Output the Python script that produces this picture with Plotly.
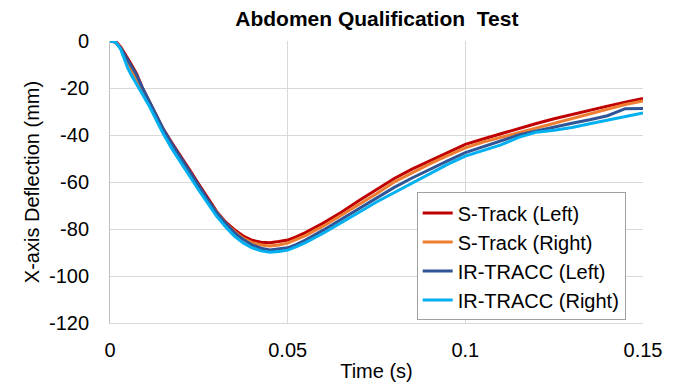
import plotly.graph_objects as go

# ---- data ----
time_s = [0, 0.0015, 0.003, 0.004, 0.005, 0.006, 0.0075, 0.009, 0.011, 0.013, 0.015,
          0.0175, 0.02, 0.0225, 0.025, 0.0275, 0.03, 0.0325, 0.035, 0.0375, 0.04,
          0.0425, 0.045, 0.0475, 0.05, 0.0525, 0.055, 0.06, 0.065, 0.07, 0.075, 0.08,
          0.085, 0.09, 0.095, 0.1, 0.105, 0.11, 0.115, 0.12, 0.125, 0.13, 0.135, 0.14,
          0.145, 0.15]

strack_left = [0, 0, -2.5, -5.3, -7.5, -10, -14, -19.5, -25.5, -31.5, -37.5,
               -43.5, -49, -55, -61, -67, -72.5, -77, -80.3, -83, -84.8,
               -85.6, -85.8, -85.3, -84.7, -83.2, -81.5, -77.5, -73, -68, -63.3, -58.5,
               -54.5, -51, -47.3, -44, -41.7, -39.4, -37.1, -35.1, -33.1, -31.2, -29.4, -27.7,
               -26, -24.5]

strack_right = [0, -0.3, -3, -6.5, -10, -13, -16.5, -20.5, -26.5, -32.5, -38.5,
                -45, -51, -57, -62.5, -68, -73, -77.5, -81, -84, -85.8,
                -86.8, -87.2, -86.8, -86, -84.5, -82.8, -78.8, -74.3, -69.7, -65, -60,
                -56, -52.3, -48.8, -45.5, -43, -41, -39.3, -37.3, -35.3, -33.3, -31.3, -29,
                -27, -25.5]

irtracc_left = [0, -0.5, -3, -5.5, -8, -10.5, -14.5, -19.5, -25.5, -31.5, -37.5,
                -44, -50, -56, -62, -67.5, -73, -77.5, -81.5, -84.5, -86.8,
                -88.2, -88.9, -88.6, -88, -86.5, -84.7, -80.5, -76, -71.5, -66.8, -62.3,
                -58.3, -54.5, -51, -47.5, -45, -42.5, -40, -38.3, -36.5, -35, -33.5, -31.8,
                -28.8, -28.7]

irtracc_right = [0, -0.3, -3.5, -7.5, -11.5, -14.5, -18.5, -22, -27.5, -33.5, -39.5,
                 -46, -52, -58, -63.5, -69, -74.5, -79, -83, -86, -88,
                 -89.3, -89.9, -89.6, -89, -87.5, -85.8, -81.8, -77.5, -73, -68.5, -64.5,
                 -60.5, -56.5, -52.5, -49, -46.5, -44.2, -41, -38.8, -38, -36.8, -35.2, -33.7,
                 -32.2, -30.6]

series_names = ["S-Track (Left)", "S-Track (Right)", "IR-TRACC (Left)", "IR-TRACC (Right)"]
series_values = [strack_left, strack_right, irtracc_left, irtracc_right]
series_colors = ["#C00000", "#ED7D31", "#2F5597", "#00B0F0"]

x_tick_vals = [0, 0.05, 0.1, 0.15]
x_tick_text = ["0", "0.05", "0.1", "0.15"]
y_tick_vals = [0, -20, -40, -60, -80, -100, -120]
y_tick_text = ["0", "-20", "-40", "-60", "-80", "-100", "-120"]

FONT = "Arial, 'Liberation Sans', sans-serif"

fig = go.Figure()
for name, vals, col in zip(series_names, series_values, series_colors):
    fig.add_trace(go.Scatter(x=time_s, y=vals, mode="lines", name=name,
                             line=dict(color=col, width=3)))

fig.update_layout(
    width=679, height=382, autosize=False,
    margin=dict(l=110, r=36, t=41, b=59, pad=0, autoexpand=False),
    paper_bgcolor="white", plot_bgcolor="white",
    font=dict(family=FONT, size=20, color="#000000"),
    title=dict(text="<b>Abdomen Qualification  Test</b>", x=0.555, xanchor="center",
               y=0.95, yanchor="middle", yref="container",
               font=dict(family=FONT, size=21, color="#000000")),
    showlegend=True,
    legend=dict(x=0.5754, y=0.463, xanchor="left", yanchor="top",
                bgcolor="white", bordercolor="#A0A0A0", borderwidth=1,
                font=dict(family=FONT, size=20, color="#000000"),
                tracegroupgap=0, itemwidth=30),
    xaxis=dict(range=[0, 0.15], tickvals=x_tick_vals, ticktext=x_tick_text,
               showgrid=True, gridcolor="#D9D9D9", gridwidth=1,
               showline=True, linecolor="#D9D9D9", linewidth=1,
               zeroline=False, ticks="", ticklabelstandoff=9, automargin=False,
               tickfont=dict(family=FONT, size=20, color="#000000"),
               title=dict(text="Time (s)", standoff=12,
                          font=dict(family=FONT, size=20, color="#000000"))),
    yaxis=dict(range=[-120, 0], tickvals=y_tick_vals, ticktext=y_tick_text,
               showgrid=True, gridcolor="#D9D9D9", gridwidth=1,
               showline=True, linecolor="#BFBFBF", linewidth=1,
               zeroline=False, ticks="", ticklabelstandoff=16, automargin=False,
               tickfont=dict(family=FONT, size=20, color="#000000"),
               title=dict(text="X-axis Deflection (mm)", standoff=3,
                          font=dict(family=FONT, size=20, color="#000000"))),
)

fig.write_html("out.html")
